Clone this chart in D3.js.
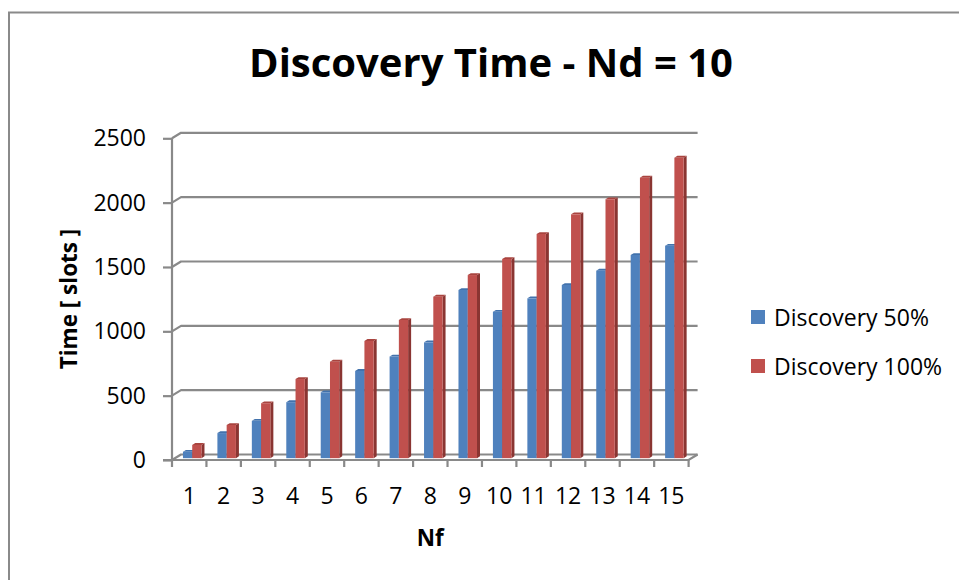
<!DOCTYPE html>
<html>
<head>
<meta charset="utf-8">
<script src="https://cdn.jsdelivr.net/npm/d3@7"></script>
<style>
  html, body { margin: 0; padding: 0; background: #fff; }
  svg { display: block; }
</style>
</head>
<body>
<svg id="chart" width="959" height="580"></svg>
<script>
// Data
const categories = [1, 2, 3, 4, 5, 6, 7, 8, 9, 10, 11, 12, 13, 14, 15];
const seriesNames = ["Discovery 50%", "Discovery 100%"];
const discovery50 = [50, 195, 290, 435, 512, 678, 790, 900, 1307, 1138, 1242, 1346, 1457, 1579, 1651];
const discovery100 = [103, 258, 427, 615, 750, 911, 1074, 1255, 1423, 1548, 1742, 1895, 2012, 2180, 2335];
const yTicks = [0, 500, 1000, 1500, 2000, 2500];

(function () {
  const seriesValues = [discovery50, discovery100];
  const colors = [
    { front: "#4F81BD", top: "#4272AC", side: "#34598A" },
    { front: "#C0504D", top: "#A9443F", side: "#8A3532" }
  ];

  const svg = d3.select("#chart");
  const font = "'Open Sans', 'Noto Sans', sans-serif";
  const labelSize = 23;

  // Outer frame
  svg.append("rect")
    .attr("x", 9).attr("y", 12.5)
    .attr("width", 1000).attr("height", 620)
    .attr("fill", "#fff")
    .attr("stroke", "#8a8a8a").attr("stroke-width", 2);

  // Plot geometry (front plane) and depth offset for the 3D walls
  const plotLeft = 172, plotRight = 688.6, plotBottom = 460, plotTop = 138.3;
  const depth = { dx: 9, dy: -5.5 };

  const x = d3.scaleBand().domain(categories).range([plotLeft, plotRight]).padding(0);
  const y = d3.scaleLinear().domain([0, 2500]).range([plotBottom, plotTop]);

  // Bars sit in the middle third of the depth
  const dFront = 1 / 3, dBack = 2 / 3;
  const sub = d3.scaleBand().domain(seriesNames).range([0, x.bandwidth()]).paddingOuter(0.86).paddingInner(0);

  const gridColor = "#898989";
  const gridW = 2.2;

  // Back wall gridlines with the diagonal run across the side wall
  svg.append("g").selectAll("path")
    .data(yTicks)
    .join("path")
    .attr("fill", "none")
    .attr("stroke", gridColor)
    .attr("stroke-width", gridW)
    .attr("stroke-linejoin", "round")
    .attr("d", d => {
      const yf = y(d);
      return `M${plotLeft},${yf} L${plotLeft + depth.dx},${yf + depth.dy} L${plotRight + depth.dx},${yf + depth.dy}`;
    });

  // Floor outline (front edge and right edge)
  svg.append("path")
    .attr("fill", "none")
    .attr("stroke", gridColor)
    .attr("stroke-width", gridW)
    .attr("d", `M${plotLeft - 9},${plotBottom} L${plotRight},${plotBottom} L${plotRight + depth.dx},${plotBottom + depth.dy}`);

  // Vertical front edge of the side wall (value axis line)
  svg.append("line")
    .attr("x1", plotLeft).attr("x2", plotLeft)
    .attr("y1", y(2500)).attr("y2", plotBottom)
    .attr("stroke", gridColor).attr("stroke-width", gridW);

  // Value axis ticks and labels
  const yAxis = d3.axisLeft(y).tickValues(yTicks).tickSize(9).tickPadding(17).tickFormat(d3.format("d"));
  const gy = svg.append("g").attr("transform", `translate(${plotLeft},0)`).call(yAxis);
  gy.select(".domain").remove();
  gy.selectAll(".tick line").attr("stroke", gridColor).attr("stroke-width", gridW);
  gy.selectAll(".tick text")
    .attr("font-family", font).attr("font-size", labelSize).attr("fill", "#000");

  // Category axis: labels at band centres, tick marks at band boundaries
  const xAxis = d3.axisBottom(x).tickSize(0).tickPadding(28);
  const gx = svg.append("g").attr("transform", `translate(0,${plotBottom})`).call(xAxis);
  gx.select(".domain").remove();
  gx.selectAll(".tick text")
    .attr("font-family", font).attr("font-size", labelSize).attr("fill", "#000");

  const boundaries = categories.map(c => x(c)).concat([x(categories[categories.length - 1]) + x.bandwidth()]);
  svg.append("g").selectAll("line")
    .data(boundaries)
    .join("line")
    .attr("x1", d => d).attr("x2", d => d)
    .attr("y1", plotBottom).attr("y2", plotBottom + 7)
    .attr("stroke", gridColor).attr("stroke-width", gridW);

  // 3D columns
  const barsG = svg.append("g");
  const fdx = depth.dx * dFront, fdy = depth.dy * dFront;
  const bdx = depth.dx * (dBack - dFront), bdy = depth.dy * (dBack - dFront);

  categories.forEach((c, i) => {
    seriesNames.forEach((s, k) => {
      const v = seriesValues[k][i];
      const x0 = x(c) + sub(s) + fdx;
      const x1 = x0 + sub.bandwidth();
      const yt = y(v) + fdy;
      const yb = y(0) + fdy;
      const g = barsG.append("g");
      // side face
      g.append("path")
        .attr("fill", colors[k].side)
        .attr("d", `M${x1},${yt} L${x1 + bdx},${yt + bdy} L${x1 + bdx},${yb + bdy} L${x1},${yb} Z`);
      // top face
      g.append("path")
        .attr("fill", colors[k].top)
        .attr("d", `M${x0},${yt} L${x0 + bdx},${yt + bdy} L${x1 + bdx},${yt + bdy} L${x1},${yt} Z`);
      // front face
      g.append("rect")
        .attr("x", x0).attr("y", yt)
        .attr("width", x1 - x0).attr("height", yb - yt)
        .attr("fill", colors[k].front);
    });
  });

  // Title
  svg.append("text")
    .attr("x", 491).attr("y", 77)
    .attr("text-anchor", "middle")
    .attr("font-family", font).attr("font-weight", "bold").attr("font-size", 40)
    .text("Discovery Time - Nd = 10");

  // Axis titles
  svg.append("text")
    .attr("transform", "translate(77,299) rotate(-90)")
    .attr("text-anchor", "middle")
    .attr("font-family", font).attr("font-weight", "bold").attr("font-size", 22.5)
    .text("Time [ slots ]");

  svg.append("text")
    .attr("x", (plotLeft + plotRight) / 2).attr("y", 546)
    .attr("text-anchor", "middle")
    .attr("font-family", font).attr("font-weight", "bold").attr("font-size", 22.5)
    .text("Nf");

  // Legend
  const legend = svg.append("g").selectAll("g")
    .data(seriesNames)
    .join("g")
    .attr("transform", (d, i) => `translate(751,${310 + i * 49})`);
  legend.append("rect")
    .attr("width", 14).attr("height", 14)
    .attr("fill", (d, i) => colors[i].front);
  legend.append("text")
    .attr("x", 23).attr("y", 15.5)
    .attr("font-family", font).attr("font-size", labelSize).attr("fill", "#000")
    .text(d => d);
})();
</script>
</body>
</html>
